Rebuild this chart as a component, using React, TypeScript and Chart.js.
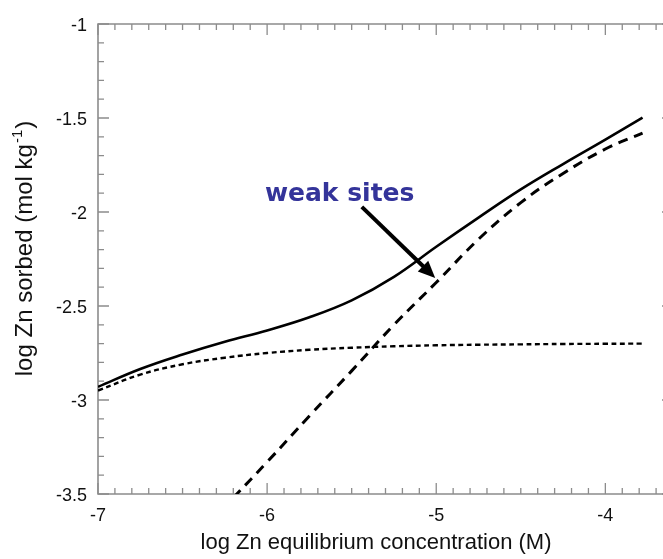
import { useEffect, useRef } from "react";
import { Chart, registerables } from "chart.js";

Chart.register(...registerables);

// log Zn equilibrium concentration (M)
const concentration = [-7, -6.75, -6.5, -6.25, -6, -5.75, -5.5, -5.25, -5, -4.75, -4.5, -4.25, -4, -3.78];
// total sorbed Zn (solid)
const totalSorbed = [-2.93, -2.835, -2.758, -2.69, -2.63, -2.56, -2.47, -2.345, -2.185, -2.03, -1.88, -1.745, -1.615, -1.498];
// strong-site contribution (dotted)
const strongSites = [-2.95, -2.865, -2.81, -2.775, -2.75, -2.733, -2.722, -2.714, -2.709, -2.706, -2.704, -2.702, -2.701, -2.7];
// weak-site contribution (dashed)
const weakConcentration = [-6.2, -6, -5.75, -5.5, -5.25, -5, -4.75, -4.5, -4.25, -4, -3.78];
const weakSites = [-3.52, -3.33, -3.085, -2.845, -2.6, -2.375, -2.145, -1.95, -1.795, -1.665, -1.58];

const xTicks = [-7, -6, -5, -4];
const xTickLabels = ["-7", "-6", "-5", "-4"];
const yTicks = [-1, -1.5, -2, -2.5, -3, -3.5];
const yTickLabels = ["-1", "-1.5", "-2", "-2.5", "-3", "-3.5"];
const xRange = [-7, -3.6];
const yRange = [-3.5, -1];
const minorStep = 0.1;

const xTitle = "log Zn equilibrium concentration (M)";
const yTitleMain = "log Zn sorbed (mol kg";
const yTitleSup = "-1";
const yTitleEnd = ")";
const weakLabel = "weak sites";

const AXIS_COLOR = "#8c8c8c";
const TEXT_COLOR = "#111111";
const LABEL_BLUE = "#34349a";
const SANS = '"Liberation Sans", Arial, sans-serif';

// annotation anchors, in data units
const labelAnchor = { x: -5.571, y: -1.942 };
const arrowStart = { x: -5.44, y: -1.973 };
const arrowTip = { x: -5.006, y: -2.351 };

const toPoints = (xs: number[], ys: number[]) => xs.map((x, i) => ({ x, y: ys[i] }));

const isMajor = (v: number, majors: number[]) => majors.some((t) => Math.abs(t - v) < 1e-6);

const framePlugin = {
  id: "frameAndLabels",
  beforeDatasetsDraw(chart: any) {
    const { ctx, chartArea: a, scales } = chart;
    const xs = scales.x;
    const ys = scales.y;
    ctx.save();
    ctx.strokeStyle = AXIS_COLOR;
    ctx.lineWidth = 1.6;
    ctx.beginPath();
    ctx.rect(a.left, a.top, a.right - a.left, a.bottom - a.top);
    ctx.stroke();

    ctx.lineWidth = 1.3;
    ctx.beginPath();
    const nx = Math.round((xRange[1] - xRange[0]) / minorStep);
    for (let i = 0; i <= nx; i++) {
      const v = xRange[0] + i * minorStep;
      const len = isMajor(v, xTicks) ? 11 : 6;
      const px = xs.getPixelForValue(v);
      ctx.moveTo(px, a.bottom);
      ctx.lineTo(px, a.bottom - len);
      ctx.moveTo(px, a.top);
      ctx.lineTo(px, a.top + len);
    }
    const ny = Math.round((yRange[1] - yRange[0]) / minorStep);
    for (let i = 0; i <= ny; i++) {
      const v = yRange[0] + i * minorStep;
      const len = isMajor(v, yTicks) ? 11 : 6;
      const py = ys.getPixelForValue(v);
      ctx.moveTo(a.left, py);
      ctx.lineTo(a.left + len, py);
      ctx.moveTo(a.right, py);
      ctx.lineTo(a.right - len, py);
    }
    ctx.stroke();
    ctx.restore();
  },
  afterDraw(chart: any) {
    const { ctx, chartArea: a, scales } = chart;
    const xs = scales.x;
    const ys = scales.y;
    ctx.save();
    ctx.fillStyle = TEXT_COLOR;
    ctx.font = `18px ${SANS}`;

    // tick labels
    ctx.textAlign = "right";
    ctx.textBaseline = "alphabetic";
    yTicks.forEach((v, i) => {
      ctx.fillText(yTickLabels[i], a.left - 11, ys.getPixelForValue(v) + 6.5);
    });
    ctx.textAlign = "center";
    xTicks.forEach((v, i) => {
      ctx.fillText(xTickLabels[i], xs.getPixelForValue(v), a.bottom + 26.5);
    });

    // axis titles
    ctx.font = `22px ${SANS}`;
    ctx.fillText(xTitle, 376, 549);

    const titleFont = `24px ${SANS}`;
    const supFont = `15px ${SANS}`;
    ctx.translate(32, 248.5);
    ctx.rotate(-Math.PI / 2);
    ctx.font = titleFont;
    const mainW = ctx.measureText(yTitleMain).width;
    const endW = ctx.measureText(yTitleEnd).width;
    ctx.font = supFont;
    const supW = ctx.measureText(yTitleSup).width;
    const total = mainW + supW + endW + 2;
    let cx = -total / 2;
    ctx.textAlign = "left";
    ctx.font = titleFont;
    ctx.fillText(yTitleMain, cx, 0);
    cx += mainW + 1;
    ctx.font = supFont;
    ctx.fillText(yTitleSup, cx, -10);
    cx += supW + 1;
    ctx.font = titleFont;
    ctx.fillText(yTitleEnd, cx, 0);
    ctx.setTransform(1, 0, 0, 1, 0, 0);

    // "weak sites" label and arrow
    ctx.fillStyle = LABEL_BLUE;
    ctx.font = `bold 25px "DejaVu Sans", Verdana, sans-serif`;
    ctx.textAlign = "center";
    ctx.fillText(weakLabel, xs.getPixelForValue(labelAnchor.x), ys.getPixelForValue(labelAnchor.y));

    const x0 = xs.getPixelForValue(arrowStart.x);
    const y0 = ys.getPixelForValue(arrowStart.y);
    const x1 = xs.getPixelForValue(arrowTip.x);
    const y1 = ys.getPixelForValue(arrowTip.y);
    const ang = Math.atan2(y1 - y0, x1 - x0);
    const headLen = 17;
    const headHalf = 7.5;
    const bx = x1 - headLen * Math.cos(ang);
    const by = y1 - headLen * Math.sin(ang);
    ctx.strokeStyle = "#000";
    ctx.fillStyle = "#000";
    ctx.lineWidth = 4;
    ctx.beginPath();
    ctx.moveTo(x0, y0);
    ctx.lineTo(bx + 2 * Math.cos(ang), by + 2 * Math.sin(ang));
    ctx.stroke();
    ctx.beginPath();
    ctx.moveTo(x1, y1);
    ctx.lineTo(bx - headHalf * Math.sin(ang), by + headHalf * Math.cos(ang));
    ctx.lineTo(bx + headHalf * Math.sin(ang), by - headHalf * Math.cos(ang));
    ctx.closePath();
    ctx.fill();
    ctx.restore();
  },
};

export default function App() {
  const ref = useRef<HTMLCanvasElement>(null);

  useEffect(() => {
    const canvas = ref.current;
    if (!canvas) return;
    const lineBase = {
      showLine: true,
      borderColor: "#000000",
      backgroundColor: "#000000",
      pointRadius: 0,
      fill: false,
      tension: 0.4,
    };
    const chart = new Chart(canvas, {
      type: "scatter",
      data: {
        datasets: [
          { ...lineBase, label: "total", data: toPoints(concentration, totalSorbed), borderWidth: 2.6 },
          { ...lineBase, label: "strong sites", data: toPoints(concentration, strongSites), borderWidth: 2.4, borderDash: [5, 3.5] },
          { ...lineBase, label: "weak sites", data: toPoints(weakConcentration, weakSites), borderWidth: 3, borderDash: [10, 7] },
        ],
      },
      options: {
        responsive: false,
        animation: false,
        events: [],
        layout: { padding: { top: 24, left: 0, right: 0, bottom: 0 } },
        plugins: { legend: { display: false }, tooltip: { enabled: false } },
        scales: {
          x: {
            type: "linear",
            min: xRange[0],
            max: xRange[1],
            grid: { display: false },
            border: { display: false },
            ticks: { display: false },
            afterFit: (s: any) => {
              s.height = 65;
            },
          },
          y: {
            type: "linear",
            min: yRange[0],
            max: yRange[1],
            grid: { display: false },
            border: { display: false },
            ticks: { display: false },
            afterFit: (s: any) => {
              s.width = 98;
            },
          },
        },
      },
      plugins: [framePlugin],
    });
    return () => chart.destroy();
  }, []);

  return (
    <div style={{ position: "fixed", left: 0, top: 0, width: 663, height: 559, overflow: "hidden", background: "#ffffff" }}>
      <canvas ref={ref} width={673} height={559} style={{ display: "block" }} />
    </div>
  );
}
